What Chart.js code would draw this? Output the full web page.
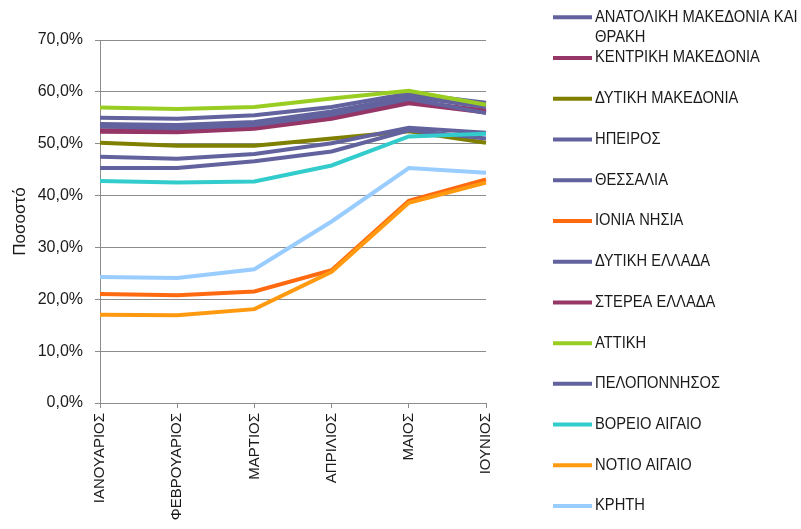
<!DOCTYPE html>
<html>
<head>
<meta charset="utf-8">
<script src="https://cdn.jsdelivr.net/npm/chart.js@4"></script>
<style>
  html, body { margin: 0; padding: 0; background: #fff; }
</style>
</head>
<body>
<canvas id="chart" width="801" height="529"></canvas>
<script>
// months on the x axis
const months = ['ΙΑΝΟΥΑΡΙΟΣ', 'ΦΕΒΡΟΥΑΡΙΟΣ', 'ΜΑΡΤΙΟΣ', 'ΑΠΡΙΛΙΟΣ', 'ΜΑΙΟΣ', 'ΙΟΥΝΙΟΣ'];
const yTicks = [0, 10, 20, 30, 40, 50, 60, 70];

// values (percent)
const anatolikiMakedonia = [55.0, 54.8, 55.5, 57.1, 59.7, 57.9];
const kentrikiMakedonia  = [52.6, 52.5, 53.2, 55.2, 58.2, 56.4];
const dytikiMakedonia    = [50.2, 49.6, 49.6, 51.0, 52.4, 50.2];
const ipeiros            = [53.8, 53.6, 54.2, 56.2, 59.1, 57.1];
const thessalia          = [47.5, 47.1, 48.0, 50.1, 53.1, 52.1];
const ioniaNisia         = [21.0, 20.8, 21.5, 25.6, 39.0, 43.1];
const dytikiEllada       = [45.3, 45.3, 46.6, 48.5, 52.6, 51.0];
const stereaEllada       = [52.3, 52.2, 52.9, 54.8, 57.8, 56.0];
const attiki             = [57.0, 56.7, 57.1, 58.7, 60.2, 57.5];
const peloponnisos       = [53.3, 53.0, 53.6, 55.6, 58.6, 55.9];
const voreioAigaio       = [42.8, 42.5, 42.7, 45.8, 51.4, 51.9];
const notioAigaio        = [17.0, 16.9, 18.1, 25.3, 38.6, 42.5];
const kriti              = [24.3, 24.1, 25.8, 35.0, 45.3, 44.4];

const purple = '#62629e';
const maroon = '#963667';

const series = [
  { label: 'ΑΝΑΤΟΛΙΚΗ ΜΑΚΕΔΟΝΙΑ ΚΑΙ ΘΡΑΚΗ', data: anatolikiMakedonia, color: purple },
  { label: 'ΚΕΝΤΡΙΚΗ ΜΑΚΕΔΟΝΙΑ', data: kentrikiMakedonia, color: maroon },
  { label: 'ΔΥΤΙΚΗ ΜΑΚΕΔΟΝΙΑ', data: dytikiMakedonia, color: '#808000' },
  { label: 'ΗΠΕΙΡΟΣ', data: ipeiros, color: purple },
  { label: 'ΘΕΣΣΑΛΙΑ', data: thessalia, color: purple },
  { label: 'ΙΟΝΙΑ ΝΗΣΙΑ', data: ioniaNisia, color: '#ff6a10' },
  { label: 'ΔΥΤΙΚΗ ΕΛΛΑΔΑ', data: dytikiEllada, color: purple },
  { label: 'ΣΤΕΡΕΑ ΕΛΛΑΔΑ', data: stereaEllada, color: maroon },
  { label: 'ΑΤΤΙΚΗ', data: attiki, color: '#9acd22' },
  { label: 'ΠΕΛΟΠΟΝΝΗΣΟΣ', data: peloponnisos, color: purple },
  { label: 'ΒΟΡΕΙΟ ΑΙΓΑΙΟ', data: voreioAigaio, color: '#33cccc' },
  { label: 'ΝΟΤΙΟ ΑΙΓΑΙΟ', data: notioAigaio, color: '#ff9a10' },
  { label: 'ΚΡΗΤΗ', data: kriti, color: '#99ccff' }
];

// Excel-like legend on the right, with wrapping of long names
const sideLegend = {
  id: 'sideLegend',
  afterDraw(chart) {
    const ctx = chart.ctx;
    ctx.save();
    ctx.font = '16px "Liberation Sans", sans-serif';
    ctx.fillStyle = '#1a1a1a';
    ctx.textBaseline = 'middle';
    const squeeze = 0.92;
    chart.data.datasets.forEach((ds, i) => {
      const y = 17.3 + i * 40.73;
      ctx.strokeStyle = ds.borderColor;
      ctx.lineWidth = 4;
      ctx.beginPath();
      ctx.moveTo(553, y);
      ctx.lineTo(592, y);
      ctx.stroke();
      // wrap words into lines no wider than ~204px
      const words = ds.label.split(' ');
      const lines = [];
      let cur = '';
      words.forEach(w => {
        const t = cur ? cur + ' ' + w : w;
        if (ctx.measureText(t).width * squeeze > 204 && cur) {
          lines.push(cur);
          cur = w;
        } else {
          cur = t;
        }
      });
      lines.push(cur);
      lines.forEach((ln, k) => {
        const w = ctx.measureText(ln).width * squeeze;
        ctx.fillText(ln, 595, y + k * 20.5, w);
      });
    });
    ctx.restore();
  }
};

new Chart(document.getElementById('chart'), {
  type: 'line',
  data: {
    labels: months,
    datasets: series.map((s, i) => ({
      label: s.label,
      data: s.data,
      borderColor: s.color,
      backgroundColor: s.color,
      borderWidth: 4,
      pointRadius: 0,
      tension: 0,
      fill: false,
      order: series.length - i
    }))
  },
  options: {
    responsive: false,
    animation: false,
    layout: { padding: { top: 40, right: 315, bottom: 0, left: 0 } },
    plugins: {
      legend: { display: false },
      tooltip: { enabled: false }
    },
    scales: {
      x: {
        offset: false,
        grid: { display: true, drawOnChartArea: false, drawTicks: true, tickLength: 5, color: '#8c8c8c' },
        border: { color: '#8c8c8c', width: 1 },
        ticks: {
          color: '#1a1a1a',
          font: { family: '"Liberation Sans", sans-serif', size: 15 },
          minRotation: 90,
          maxRotation: 90,
          padding: 5,
          autoSkip: false
        },
        afterFit(scale) { scale.height = 126; }
      },
      y: {
        min: 0,
        max: 70,
        afterBuildTicks(scale) { scale.ticks = yTicks.map(v => ({ value: v })); },
        grid: { color: '#8c8c8c', tickLength: 5 },
        border: { color: '#8c8c8c', width: 1 },
        ticks: {
          color: '#1a1a1a',
          font: { family: '"Liberation Sans", sans-serif', size: 16 },
          padding: 12,
          callback: v => v.toFixed(1).replace('.', ',') + '%'
        },
        title: {
          display: true,
          text: 'Ποσοστό',
          color: '#1a1a1a',
          font: { family: '"Liberation Sans", sans-serif', size: 17 },
          padding: { top: 10, bottom: 0 }
        },
        afterFit(scale) { scale.width = 100; }
      }
    }
  },
  plugins: [sideLegend]
});
</script>
</body>
</html>
